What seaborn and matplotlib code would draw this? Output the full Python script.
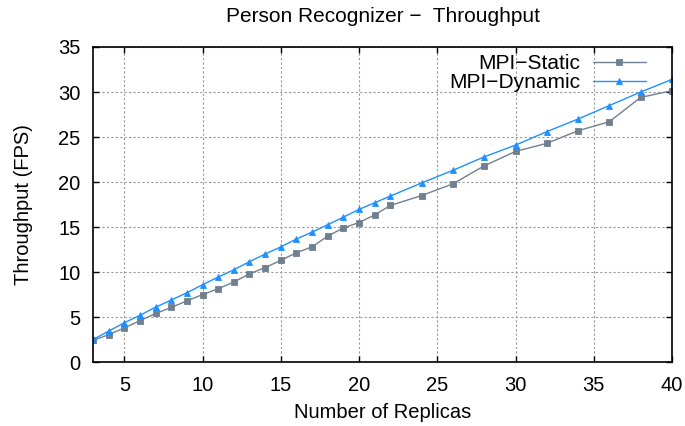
import matplotlib
matplotlib.use("Agg")
import matplotlib.pyplot as plt
import seaborn as sns
import pandas as pd

replicas = [3, 4, 5, 6, 7, 8, 9, 10, 11, 12, 13, 14, 15, 16, 17, 18, 19, 20, 21, 22,
            24, 26, 28, 30, 32, 34, 36, 38, 40]
mpi_static = [2.4, 3.05, 3.8, 4.6, 5.4, 6.07, 6.8, 7.5, 8.15, 8.9, 9.8, 10.5, 11.3,
              12.15, 12.8, 14.0, 14.9, 15.5, 16.35, 17.4, 18.5, 19.8, 21.8, 23.4,
              24.3, 25.7, 26.7, 29.4, 30.15]
mpi_dynamic = [2.5, 3.44, 4.37, 5.2, 6.1, 6.9, 7.7, 8.6, 9.44, 10.26, 11.15, 12.0,
               12.8, 13.67, 14.44, 15.26, 16.1, 16.96, 17.7, 18.44, 19.9, 21.3, 22.8,
               24.1, 25.6, 27.0, 28.5, 30.0, 31.4]
series_names = ["MPI\u2212Static", "MPI\u2212Dynamic"]
colors = ["#708090", "#1E90FF"]
markers = ["s", "^"]

x_ticks = [5, 10, 15, 20, 25, 30, 35, 40]
y_ticks = [0, 5, 10, 15, 20, 25, 30, 35]

sns.set_theme(style="white")
plt.rcParams["font.family"] = ["Liberation Sans", "DejaVu Sans"]
for k in ["text.color", "axes.labelcolor", "xtick.color", "ytick.color"]:
    plt.rcParams[k] = "black"

df = pd.DataFrame({
    "Replicas": replicas * 2,
    "Throughput": mpi_static + mpi_dynamic,
    "Series": [series_names[0]] * len(replicas) + [series_names[1]] * len(replicas),
})

fig = plt.figure(figsize=(6.85, 4.26), dpi=100)
ax = fig.add_axes([0.1358, 0.150, 0.8452, 0.7397])

sns.lineplot(data=df, x="Replicas", y="Throughput", hue="Series", style="Series",
             palette=colors, markers=markers, dashes=False, markersize=4.5,
             markeredgewidth=0.6, linewidth=1.0, ax=ax, legend=False)
for line, c in zip(ax.lines, colors):
    line.set_markeredgecolor(c)

ax.set_xlim(3, 40)
ax.set_ylim(0, 35)
ax.set_xticks(x_ticks)
ax.set_yticks(y_ticks)
ax.grid(True, color="#999999", linestyle=(0, (2, 2)), linewidth=0.8)
for s in ax.spines.values():
    s.set_visible(True)
    s.set_color("black")
    s.set_linewidth(1.2)
ax.tick_params(direction="in", length=4, width=1, labelsize=14.5,
               top=True, right=True, bottom=True, left=True, colors="black")
ax.tick_params(axis="y", pad=9)
ax.tick_params(axis="x", pad=10)
ax.set_xlabel("Number of Replicas", fontsize=14.5, labelpad=6)
ax.set_ylabel("Throughput (FPS)", fontsize=14.5, labelpad=18)
ax.set_title("Person Recognizer \u2212  Throughput", fontsize=15, pad=18)

handles = list(ax.lines[:2])
ax.legend(handles, series_names, loc="upper right", bbox_to_anchor=(0.955, 0.978),
          frameon=False, markerfirst=False, fontsize=15, handlelength=2.55,
          handletextpad=0.62, labelspacing=0.0, borderaxespad=0, borderpad=0)

fig.savefig("out.png", dpi=100)
